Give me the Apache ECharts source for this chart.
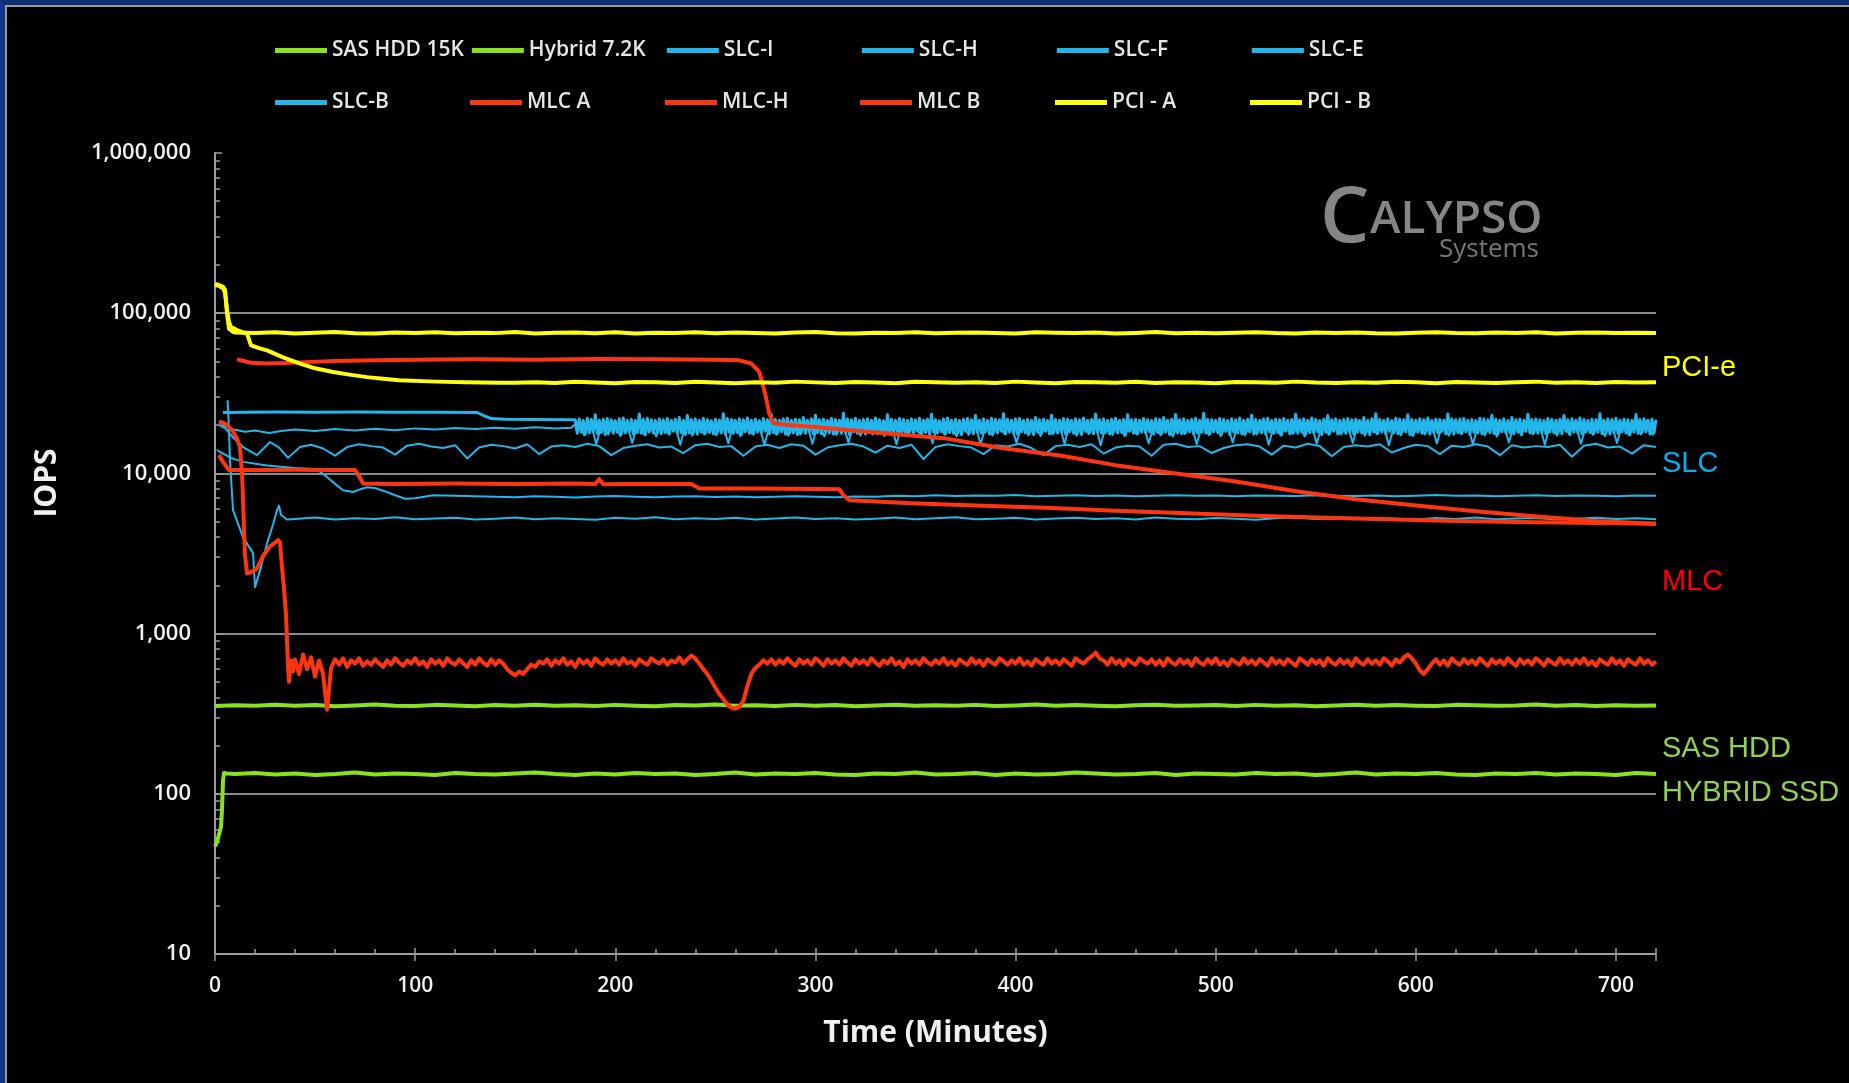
<!DOCTYPE html>
<html>
<head>
<meta charset="utf-8">
<script src="https://cdn.jsdelivr.net/npm/echarts@6/dist/echarts.min.js"></script>
<style>
html,body{margin:0;padding:0;background:#000;overflow:hidden}
#chart{position:absolute;left:0;top:0;width:1849px;height:1083px}
#frame{position:absolute;left:0;top:0;width:1849px;height:1083px;box-sizing:border-box;border-top:5px solid #0f2f74;border-left:5px solid #12378a;pointer-events:none}
#frame2{position:absolute;left:5px;top:5px;width:1844px;height:1078px;box-sizing:border-box;border-top:2px solid #9a9a9a;border-left:2px solid #9a9a9a;pointer-events:none}
</style>
</head>
<body>
<div id="chart"></div>
<div id="frame"></div>
<div id="frame2"></div>
<script>
// ---------------- DATA ----------------
const legendRow1 = ['SAS HDD 15K', 'Hybrid 7.2K', 'SLC-I', 'SLC-H', 'SLC-F', 'SLC-E'];
const legendRow2 = ['SLC-B', 'MLC A', 'MLC-H', 'MLC B', 'PCI - A', 'PCI - B'];
const xTickLabels = [0, 100, 200, 300, 400, 500, 600, 700];

// SAS HDD 15K: t = 0..720 every 10 min
const sasStart = 0, sasStep = 10;
const sasVals = [353,357,355,360,354,358,352,356,361,355,353,359,356,352,358,355,360,354,357,353,
359,355,352,358,356,361,354,357,353,359,355,358,352,356,360,354,357,355,359,353,
356,361,354,358,355,352,357,360,354,356,358,353,359,355,357,352,356,360,354,358,
355,353,359,357,354,356,361,355,358,353,357,355,356];

// Hybrid 7.2K
const hybridHead = [[0,47],[1,50],[2,56],[3,62],[3.5,80],[4,120],[4.5,135],[6,134]];
const hybridStart = 10, hybridStep = 10;
const hybridVals = [133,135,132,134,131,133,136,132,134,133,131,135,133,132,134,136,133,131,134,132,
135,133,134,131,133,136,132,134,133,135,132,131,134,133,136,132,133,135,131,134,
132,133,136,134,132,133,135,131,134,133,132,135,133,134,131,133,136,132,134,133,
135,132,131,134,133,135,132,134,133,131,135,133];

// SLC-I (flat ~24k, then the dense band, sampled every minute)
const slcIHead = [[4,24000],[8,24000],[15,24100],[30,24200],[50,24100],[70,24200],[90,24100],[110,24100],[131,24000],[134,23000],[138,22000],[145,21800],[160,21700],[178,21600]];
const slcIStart = 180, slcIStep = 1;
const slcIVals = [
21600,17800,21900,18100,21400,17600,22100,17900,21700,18200,23200,17700,21500,18000,21800,17500,22000,18300,21600,17800,
21300,18100,21900,17600,22200,17900,21500,18200,21700,17700,21400,18000,23500,17800,21800,17500,22100,18100,21600,17900,
21400,18200,21900,17700,21600,18000,22000,17600,21500,18300,21800,17800,22300,18000,21400,17500,23000,17900,21700,18200,
21900,17600,21500,18100,22100,17800,21600,18000,21300,17700,21800,18300,21500,17900,23600,17600,22000,18100,21700,17800,
21400,18000,21900,17500,21600,18200,22200,17800,21500,17600,21800,18100,21300,17900,22000,18300,21600,17700,23300,18000,
21700,17800,21500,18200,21900,17600,22100,18000,21400,17900,21800,17500,21600,18100,22300,17800,21500,18200,21900,17600,
23100,18000,21600,17700,21800,18300,21400,17900,22000,17600,21700,18100,21500,17800,23700,18000,21900,17500,21600,18200,
22100,17800,21400,18000,21700,17600,21900,18300,21500,17900,22200,17700,21600,18100,21300,17800,23200,18000,21800,17600,
21500,18200,22000,17900,21700,17500,21400,18100,21900,17800,21600,18300,22100,17600,21500,18000,21800,17700,23400,18100,
21600,17900,21300,18200,21900,17600,22200,18000,21500,17800,21700,18100,21400,17500,21800,18300,22000,17900,21600,17700,
23000,18000,21500,17800,21900,18200,21400,17600,22100,18000,21700,17900,21600,18300,23600,17700,21800,18100,21500,17800,
21900,17600,22000,18200,21400,17900,21700,18000,21500,17500,22300,18100,21600,17800,21800,18300,21400,17700,23100,18000,
21700,17900,21500,18100,22000,17600,21800,18200,21400,17800,21900,18000,21600,17500,22200,18300,21500,17900,21700,17700,
23500,18100,21600,17800,21900,18000,21400,17600,21800,18200,22100,17900,21500,18000,21700,17500,23200,18300,21600,17800,
21800,17700,21500,18100,22000,17900,21600,18200,21400,17600,21900,18000,21700,17800,22300,18100,21500,17500,21800,18300,
23300,17900,21600,17700,21900,18000,21400,18200,21700,17600,22100,17800,21500,18100,23700,17900,21800,17600,21600,18200,
21500,18000,22000,17800,21700,18300,21400,17500,21900,18100,21600,17900,22200,17700,21500,18000,21800,18200,23100,17600,
21700,18100,21500,17900,21900,17600,22100,18200,21400,17800,21800,18000,21600,17500,22000,18300,21500,17700,21700,18000,
23400,17800,21600,18100,21900,17600,21500,18000,22200,17900,21700,18200,21400,17500,21800,18100,23000,17800,21600,18300,
21900,17700,21500,18000,21700,17800,22000,18200,21600,17600,21800,18100,21400,17900,22300,18000,21500,17500,21900,18200,
23600,17800,21700,18100,21500,17600,21900,18300,21400,17900,22100,17700,21800,18000,21600,18200,23200,17500,21700,18000,
21500,18100,21900,17800,21600,18200,22200,17600,21400,18000,21800,17900,21700,18300,21500,17700,23500,18100,21900,17600,
21600,18000,21800,17800,22000,18200,21500,17500,21700,18100,21400,17900,22100,17700,21900,18300,21600,18000,23100,17800,
21800,17600,21500,18200,21900,17900,21400,18000,22300,17700,21600,18100,21800,17500,21500,18300,23400,17900,21700,18000,
21900,17800,21600,18100,21400,17600,22000,18200,21700,17900,21500,18000,21800,17700,23000,18300,21600,17500,21900,18100,
21500,17900,22200,17600,21700,18200,21400,18000,21800,17800,21600,18100,23600,17700,21500,18300,21900,17600,21700,18000,
22100,17800,21500,18200,21800,17900,21600,17500,21400,18100,23300,17800,21700,18000,21900,18200,21500,17600,21800,17900,
21600];

// SLC-H (wavy ~18.7k, then the lower edge of the band with teeth)
const slcHHead = [[3,20200],[6,19500],[10,18700],[15,18200],[20,18500],[27,17900],[33,18400],[40,18800],[50,18400],[60,18900],[70,18500],[80,19000],[90,18600],[100,19100],[110,18800],[120,19200],[130,18900],[140,19300],[150,19000],[160,19400],[170,19100],[178,19300]];
const slcHStart = 181.5, slcHStep = 3;
const slcHVals = [20900,17300,21200,15200,20700,17500,21100,17100,20800,15500,
21300,17400,20600,17000,21000,17600,20900,15100,21200,17200,
20700,17500,21100,17300,20800,15400,21400,17100,20900,17600,
21000,15000,20700,17400,21200,17200,20600,17500,21100,15300,
20800,17000,21300,17400,20900,15600,21000,17200,20700,17500,
21200,17100,20800,15200,21100,17600,20600,17300,21400,15400,
20900,17500,21000,17000,20700,17400,21300,15100,20800,17200,
21100,17600,20600,15500,21200,17300,20900,17100,21000,17500,
20700,15300,21400,17200,20800,17600,21100,15000,20600,17400,
21200,17100,20900,17500,21000,15400,20700,17300,21300,17000,
20800,17600,21100,15200,20600,17400,21200,17100,20900,15600,
21000,17300,20700,17500,21400,15100,20800,17200,21100,17600,
20600,17000,21200,15300,20900,17400,21000,17500,20700,15500,
21300,17200,20800,17600,21100,15000,20600,17300,21200,17100,
20900,17500,21000,15400,20700,17200,21400,17600,20800,15200,
21100,17300,20600,17000,21200,15600,20900,17400,21000,17500,
20700,15100,21300,17200,20800,17600,21100,15300,20600,17400,
21200,17100,20900,15500,21000,17300,20700,17500,21400,17200];

// SLC-F (zigzag ~14.7k)
const slcFHead = [[2,20000],[5,19200],[9,16800],[14,14600],[21,13000],[27.5,15700],[32,14500],[36.5,12500],[42.5,14600]];
const slcFStart = 48, slcFStep = 6;
const slcFVals = [15100,14300,12900,14600,15200,14800,14500,13100,14900,15300,
14700,14400,15000,12400,14500,15100,14800,14300,15200,13200,
14700,15000,14600,15300,14800,13000,14400,14900,15200,14500,
14700,13400,15000,15300,14600,14800,12900,14700,15100,14400,
15200,14900,13100,14500,15000,15300,14700,13500,14900,14400,
15100,12300,14600,15200,14800,14500,13200,15000,14700,15300,
14400,13000,14800,15100,14600,15200,13300,14500,14900,14700,
12900,15100,15300,14600,14800,13400,14400,15000,15200,14700,
13100,14900,14500,15300,14800,12800,14600,15000,14700,15200,
13500,14400,15100,14800,13200,14900,14600,15200,14700,13000,
15000,14500,14800,14600,15100,12700,14900,15300,14500,14700,
13300,15000,14600];

// SLC-E (13.6k -> 10.6k -> ~7.2k)
const slcEHead = [[1,14000],[2.5,13600],[8,12500],[14,11800],[26,11200],[40,10800],[51,10600],[56,9500],[60,8600],[64,7850],[69,7650],[73,8000],[76,8200],[80,8100],[84,7800],[90,7300],[95,6950],[100,7000],[109,7300],[120,7250]];
const slcEStart = 130, slcEStep = 10;
const slcEVals = [7200,7150,7100,7200,7150,7080,7180,7220,7140,7100,
7170,7200,7130,7180,7110,7160,7200,7140,7090,7170,7150,
7250,7200,7300,7220,7280,7250,7320,7200,7260,7300,
7230,7280,7200,7250,7310,7240,7270,7200,7290,7250,
7220,7300,7260,7230,7280,7200,7250,7320,7240,7270,
7210,7260,7300,7230,7280,7250,7200,7270,7240];

// SLC-B (drop to ~2k, then ~5.2k)
const slcBHead = [[6.3,28600],[6.8,21000],[7.5,12000],[9,5900],[14,4000],[19,3180],[20,1950],[23,2600],[26,3660],[29,4800],[31,5900],[32,6300],[33,5500],[36,5150]];
const slcBStart = 40, slcBStep = 10;
const slcBVals = [5200,5300,5150,5250,5200,5330,5170,5230,5290,5150,
5220,5310,5180,5250,5200,5140,5280,5210,5330,5170,
5250,5200,5290,5160,5230,5310,5190,5250,5150,5220,
5300,5180,5240,5320,5170,5210,5280,5150,5230,5290,
5200,5250,5160,5310,5220,5180,5270,5210,5140,5250,
5300,5190,5230,5170,5280,5220,5150,5260,5200,5310,
5180,5230,5270,5160,5210,5290,5200,5240,5180];

// MLC A (~51k, drop at ~275 min, then steady decline)
const mlcAPoints = [[11,51500],[14,50500],[18,49000],[25,48500],[35,48800],[45,49500],[60,50300],[80,50800],[100,51200],[130,51600],[160,51300],[190,51800],[220,51600],[250,51300],[262,50800],[268,48500],[272,43000],[275,31000],[277,23500],[279,20600],[285,20100],[300,19500],[330,18000],[364,16600],[393,14400],[423,12900],[449,11300],[482,9900],[510,8900],[541,7700],[570,6900],[600,6300],[630,5800],[659,5400],[690,5050],[720,4850]];

// MLC-H (21k, collapse to ~650 noisy), noisy part sampled every 2 minutes
const mlcHHead = [[2,21000],[5,20500],[7,19500],[9,18300],[11,16500],[12.5,14600],[13.5,10000],[14,7000],[14.5,4400],[15,3100],[16,2370],[18,2420],[21,2550],[24,3050],[27.5,3500],[30,3700],[31.6,3830],[32.5,3700],[33.5,2600],[34.5,1900],[35.5,1300],[36.5,620],[37,500],[38,680],[39,580]];
const mlcHStart = 40, mlcHStep = 2;
const mlcHVals = [
690,560,740,600,710,540,680,560,335,610,690,640,700,620,680,650,700,630,670,640,
690,650,620,680,640,700,660,630,680,650,700,640,670,620,690,650,680,630,700,660,
640,690,650,620,680,640,700,660,630,690,640,680,650,600,570,550,580,560,600,640,
620,670,650,690,630,680,650,700,640,670,620,690,650,680,630,700,660,640,690,650,
680,640,700,650,670,630,690,660,640,700,670,650,690,640,680,660,710,650,690,730,
700,650,600,560,510,460,420,390,360,345,340,350,380,470,560,610,640,680,650,690,
640,680,650,700,660,630,690,650,680,640,700,670,630,690,650,680,640,700,660,630,
690,650,680,640,700,660,630,680,650,700,640,670,620,690,650,680,640,700,660,640,
680,650,700,640,670,630,690,660,640,700,650,680,630,690,660,640,700,670,640,680,
650,700,640,670,630,690,660,640,700,650,680,640,690,660,630,700,670,650,690,720,
760,700,680,640,700,650,680,630,690,660,640,700,670,650,690,640,680,630,700,660,
640,690,650,680,630,700,660,640,690,650,700,640,670,630,690,660,640,700,650,680,
640,690,660,630,700,650,680,640,690,660,630,700,670,640,690,650,680,630,700,660,
640,690,650,680,630,700,660,640,690,650,680,640,700,670,630,690,660,710,740,700,
650,590,560,600,650,690,640,680,630,700,660,640,690,650,680,640,700,660,630,690,
650,680,640,700,660,630,690,650,680,640,700,670,630,690,660,640,700,650,680,640,
690,650,700,640,670,630,690,660,640,700,650,680,630,690,660,640,700,650,680,640,
670];

// MLC B (~10.5k plateau, steps down, ~4.85k at end)
const mlcBPoints = [[2,13000],[4,11800],[7,10500],[20,10500],[40,10550],[60,10500],[70,10500],[72,9600],[74,8650],[90,8600],[120,8650],[150,8600],[180,8650],[190,8600],[192,9200],[194,8550],[210,8600],[238,8600],[242,8050],[270,8050],[300,8000],[312,7950],[314,7300],[317,6800],[348,6500],[380,6300],[415,6100],[450,5850],[482,5650],[520,5450],[542,5350],[580,5200],[620,5050],[660,4950],[700,4880],[720,4850]];

// PCI - A (~75k)
const pciAHead = [[0,152000],[2,150000],[4,146000],[5,140000],[6,100000],[7,80000],[9,76500]];
const pciAStart = 10, pciAStep = 10;
const pciAVals = [75800,75200,76100,74800,75500,76300,75000,74600,75900,75300,76000,74900,75600,75100,76200,74700,75400,75900,75000,76100,
74800,75500,75200,76000,74900,75700,75300,74600,75800,76200,75000,74800,75600,75300,76100,74900,75400,75800,75100,74700,
76000,75500,75200,75900,74800,75300,76200,75000,75600,74900,75400,76000,75100,74700,75800,75300,75900,75000,74600,75500,
76100,75200,74900,75700,75300,76000,74800,75400,75900,75100,75600,75300];

// PCI - B (150k, decays to ~37k)
const pciBHead = [[0,150000],[2,148000],[4,143000],[5,135000],[6,105000],[7,88000],[8,82000],[11,78500],[14,76000],[16,74500],[18,63000],[22,60500],[26,58600],[34,53000],[42.5,48400],[50,45300],[59,42900],[68,41200],[76,39900],[84,39000],[92,38100],[110,37400],[125,37000],[142,36800]];
const pciBStart = 150, pciBStep = 10;
const pciBVals = [36800,37100,36700,37300,36900,36600,37200,37000,36700,37300,
36900,36500,37100,36800,37400,37000,36700,37200,36900,36600,
37300,37000,36800,37100,36700,37400,36900,36600,37200,37000,
36800,37300,36700,37100,36900,36500,37200,37000,36800,37400,
36900,36700,37100,36800,37300,37000,36600,37200,36900,36700,
37100,37400,36800,37000,36700,37200,36900,37100];

// Category annotations at the right edge
const groupLabels = ['PCI-e', 'SLC', 'MLC', 'SAS HDD', 'HYBRID SSD'];

// ---------------- BUILD ----------------
function seq(t0, step, vals) { return vals.map(function (v, i) { return [t0 + i * step, v]; }); }

const COLORS = { green: '#8ae21c', cyan: '#22b6ea', red: '#ff3511', yellow: '#ffff14' };

function line(name, data, color, width) {
  return {
    name: name, type: 'line', data: data, color: color,
    showSymbol: false, symbol: 'none', smooth: false, silent: true, sampling: null,
    lineStyle: { color: color, width: width, join: 'round' },
    emphasis: { disabled: true }
  };
}

const series = [
  line('SAS HDD 15K', seq(sasStart, sasStep, sasVals), COLORS.green, 4),
  line('Hybrid 7.2K', hybridHead.concat(seq(hybridStart, hybridStep, hybridVals)), COLORS.green, 4),
  line('SLC-I', slcIHead.concat(seq(slcIStart, slcIStep, slcIVals)), COLORS.cyan, 3),
  line('SLC-H', slcHHead.concat(seq(slcHStart, slcHStep, slcHVals)), COLORS.cyan, 2),
  line('SLC-F', slcFHead.concat(seq(slcFStart, slcFStep, slcFVals)), COLORS.cyan, 2),
  line('SLC-E', slcEHead.concat(seq(slcEStart, slcEStep, slcEVals)), COLORS.cyan, 2),
  line('SLC-B', slcBHead.concat(seq(slcBStart, slcBStep, slcBVals)), COLORS.cyan, 2),
  line('MLC A', mlcAPoints, COLORS.red, 4),
  line('MLC-H', mlcHHead.concat(seq(mlcHStart, mlcHStep, mlcHVals)), COLORS.red, 4),
  line('MLC B', mlcBPoints, COLORS.red, 4),
  line('PCI - A', pciAHead.concat(seq(pciAStart, pciAStep, pciAVals)), COLORS.yellow, 4),
  line('PCI - B', pciBHead.concat(seq(pciBStart, pciBStep, pciBVals)), COLORS.yellow, 4)
];

function legendRow(names, top) {
  return {
    data: names, left: 275, top: top, orient: 'horizontal', padding: 0,
    icon: 'rect', itemWidth: 52, itemHeight: 5, itemGap: 8, selectedMode: false,
    formatter: function (n) { return '{n|' + n + '}'; },
    textStyle: { color: '#e6e6e6', rich: { n: { width: 130, fontSize: 21, fontWeight: 600, color: '#e6e6e6', fontFamily: 'Open Sans', lineHeight: 24 } } }
  };
}

const axisGray = '#9c9c9c';
const labelStyle = { color: '#f0f0f0', fontSize: 21, fontWeight: 600, fontFamily: 'Open Sans' };

const groupColors = ['#ffff00', '#00b0f0', '#ff0000', '#92d050', '#92d050'];
const groupY = [368, 464, 582, 749, 793];

const graphics = [];
groupLabels.forEach(function (t, i) {
  graphics.push({ type: 'text', x: 1662, y: groupY[i], silent: true,
    style: { text: t, fill: groupColors[i], font: '29px "Liberation Sans", Arial, sans-serif', align: 'left', verticalAlign: 'middle' } });
});
graphics.push({ type: 'text', x: 47, y: 483, rotation: Math.PI / 2, silent: true,
  style: { text: 'IOPS', fill: '#f0f0f0', font: 'bold 30px "Open Sans", sans-serif', align: 'center', verticalAlign: 'middle' } });
graphics.push({ type: 'text', x: 1320, y: 220, silent: true,
  style: { text: 'C', fill: '#858585', font: '600 78px "Open Sans", sans-serif', align: 'left', verticalAlign: 'middle' } });
graphics.push({ type: 'text', x: 1370, y: 220, silent: true,
  style: { text: 'ALYPSO', fill: '#858585', font: '600 46px "Open Sans", sans-serif', align: 'left', verticalAlign: 'middle' } });
graphics.push({ type: 'text', x: 1439, y: 250, silent: true,
  style: { text: 'Systems', fill: '#777777', font: '26px "Open Sans", sans-serif', align: 'left', verticalAlign: 'middle' } });

const option = {
  backgroundColor: '#000',
  animation: false,
  grid: { left: 215, right: 193, top: 153, bottom: 129, containLabel: false },
  legend: [legendRow(legendRow1, 40), legendRow(legendRow2, 92)],
  xAxis: [{
    type: 'value', min: 0, max: 720, interval: 100, position: 'bottom',
    axisLine: { show: true, onZero: false, lineStyle: { color: axisGray, width: 2 } },
    axisTick: { show: true, inside: true, length: 6, lineStyle: { color: axisGray, width: 1.5 } },
    minorTick: { show: true, splitNumber: 5, length: 5, lineStyle: { color: axisGray, width: 1.5 } },
    splitLine: { show: false },
    axisLabel: Object.assign({ margin: 22, showMaxLabel: false,
      formatter: function (v) { return xTickLabels.indexOf(v) >= 0 ? String(v) : ''; } }, labelStyle),
    name: 'Time (Minutes)', nameLocation: 'middle', nameGap: 64,
    nameTextStyle: { color: '#f0f0f0', fontSize: 30, fontWeight: 'bold', fontFamily: 'Open Sans' }
  }, {
    type: 'value', min: 0, max: 720, interval: 100, position: 'bottom',
    axisLine: { show: false }, axisLabel: { show: false }, splitLine: { show: false },
    axisTick: { show: true, inside: false, length: 7, lineStyle: { color: axisGray, width: 1.5 } }
  }],
  yAxis: {
    type: 'log', logBase: 10, min: 10, max: 1000000,
    axisLine: { show: true, lineStyle: { color: axisGray, width: 2 } },
    axisTick: { show: true, inside: true, length: 7, lineStyle: { color: axisGray, width: 1.5 } },
    minorTick: { show: true, splitNumber: 9, length: 5, lineStyle: { color: axisGray, width: 1.5 } },
    splitLine: { show: true, showMinLine: false, showMaxLine: false, lineStyle: { color: '#8a8a8a', width: 2 } },
    axisLabel: Object.assign({ margin: 24, formatter: function (v) { return Math.round(v).toLocaleString('en-US'); } }, labelStyle, { fontSize: 22 })
  },
  graphic: graphics,
  series: series
};

const chart = echarts.init(document.getElementById('chart'), null, { renderer: 'canvas' });
chart.setOption(option);
</script>
</body>
</html>
